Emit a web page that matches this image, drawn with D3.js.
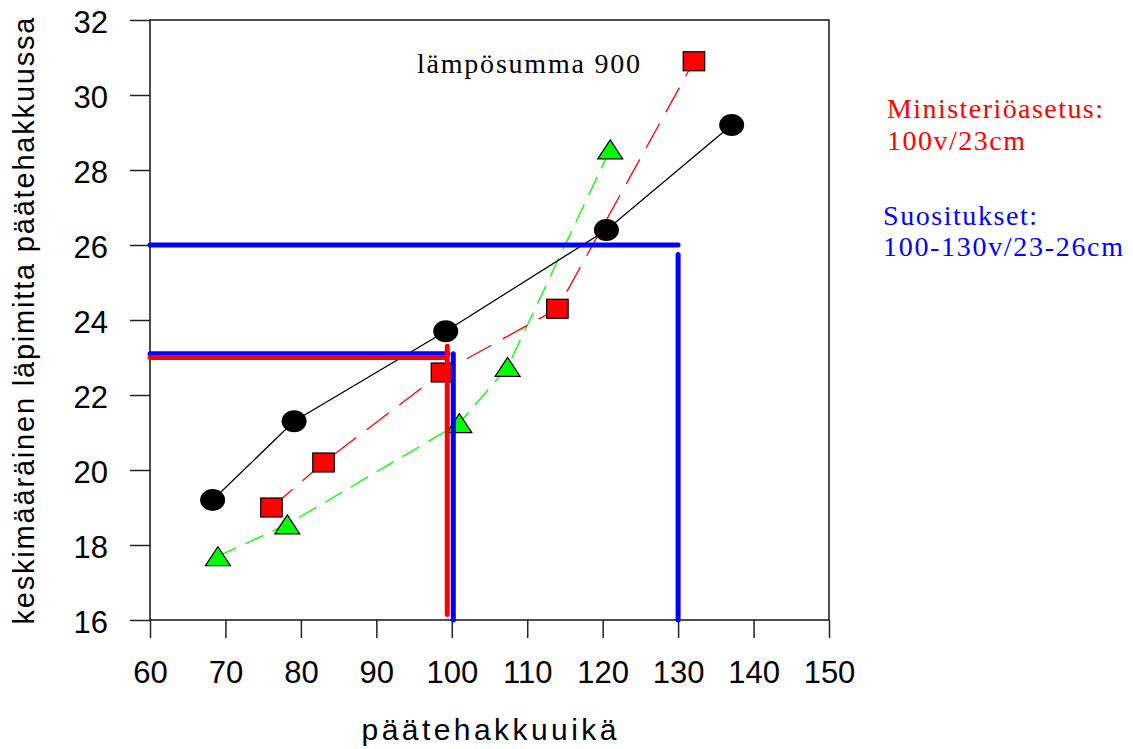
<!DOCTYPE html>
<html>
<head>
<meta charset="utf-8">
<script src="https://cdn.jsdelivr.net/npm/d3@7"></script>
<style>
  html, body { margin: 0; padding: 0; background: #fff; }
  svg { display: block; }
</style>
</head>
<body>
<div id="chart"></div>
<script>
// ---- data ----
const xTicks = [60, 70, 80, 90, 100, 110, 120, 130, 140, 150];
const yTicks = [16, 18, 20, 22, 24, 26, 28, 30, 32];

const blackAge  = [68.3, 79.1, 99.2, 120.5, 137.1];
const blackDiam = [19.2, 21.3, 23.7, 26.4, 29.2];

const redAge    = [76.1, 83.0, 98.7, 114.0, 132.1];
const redDiam   = [19.0, 20.2, 22.6, 24.3, 30.9];

const greenAge  = [69.0, 78.2, 101.0, 107.4, 121.0];
const greenDiam = [17.7, 18.55, 21.25, 22.75, 28.55];

// reference lines (age, diameter)
const blueRefLines = [
  [[60, 23.1], [99.5, 23.1]],
  [[100.2, 23.1], [100.2, 16]],
  [[60, 26], [130, 26]],
  [[130, 25.75], [130, 16]]
];
const redRefLines = [
  [[60, 23.0], [99.2, 23.0]],
  [[99.4, 23.3], [99.4, 16.15]]
];

const xTitle = "päätehakkuuikä";
const yTitle = "keskimääräinen läpimitta päätehakkuussa";
const plotLabel = "lämpösumma 900";
const redNote = ["Ministeriöasetus:", "100v/23cm"];
const blueNote = ["Suositukset:", "100-130v/23-26cm"];

// ---- drawing ----
const W = 1133, H = 749;
const svg = d3.select("#chart").append("svg").attr("width", W).attr("height", H);

const x = d3.scaleLinear().domain([60, 150]).range([150, 829]);
const y = d3.scaleLinear().domain([16, 32]).range([620, 20]);

const sans = "'Liberation Sans', Arial, sans-serif";
const serif = "'Liberation Serif', 'Times New Roman', serif";

// axes
const xAxis = svg.append("g").attr("transform", "translate(0,620)")
  .call(d3.axisBottom(x).tickValues(xTicks).tickSize(18).tickSizeOuter(0));
xAxis.select(".domain").remove();
xAxis.selectAll("line").attr("stroke", "#222").attr("stroke-width", 1.5);
xAxis.selectAll("text").attr("y", 63).attr("dy", 0)
  .attr("font-family", sans).attr("font-size", 31).attr("fill", "#000");

const yAxis = svg.append("g").attr("transform", "translate(150,0)")
  .call(d3.axisLeft(y).tickValues(yTicks).tickSize(20).tickSizeOuter(0));
yAxis.select(".domain").remove();
yAxis.selectAll("line").attr("stroke", "#222").attr("stroke-width", 1.5);
yAxis.selectAll("text").attr("x", -42).attr("dy", 12)
  .attr("font-family", sans).attr("font-size", 31).attr("fill", "#000");

// frame
svg.append("rect").attr("x", x(60)).attr("y", y(32))
  .attr("width", x(150) - x(60)).attr("height", y(16) - y(32))
  .attr("fill", "none").attr("stroke", "#222").attr("stroke-width", 1.6);

// series lines
const line = d3.line().x(d => x(d[0])).y(d => y(d[1]));
const zip = (a, b) => a.map((v, i) => [v, b[i]]);
const blackPts = zip(blackAge, blackDiam);
const redPts = zip(redAge, redDiam);
const greenPts = zip(greenAge, greenDiam);

svg.append("path").datum(greenPts).attr("d", line)
  .attr("fill", "none").attr("stroke", "#00ff00").attr("stroke-width", 1.3)
  .attr("stroke-dasharray", "20,10");
svg.append("path").datum(redPts).attr("d", line)
  .attr("fill", "none").attr("stroke", "#ff0000").attr("stroke-width", 1.3)
  .attr("stroke-dasharray", "28,13");
svg.append("path").datum(blackPts).attr("d", line)
  .attr("fill", "none").attr("stroke", "#000").attr("stroke-width", 1.3);

// markers
svg.append("g").selectAll("ellipse").data(blackPts).join("ellipse")
  .attr("cx", d => x(d[0])).attr("cy", d => y(d[1]))
  .attr("rx", 12.5).attr("ry", 11).attr("fill", "#000");

svg.append("g").selectAll("rect").data(redPts).join("rect")
  .attr("x", d => x(d[0]) - 10.75).attr("y", d => y(d[1]) - 9.5)
  .attr("width", 21.5).attr("height", 19)
  .attr("fill", "#ff0000").attr("stroke", "#000").attr("stroke-width", 1.2);

svg.append("g").selectAll("path").data(greenPts).join("path")
  .attr("d", d => {
    const cx = x(d[0]), cy = y(d[1]);
    return `M${cx},${cy - 9.5}L${cx + 12.5},${cy + 9.5}L${cx - 12.5},${cy + 9.5}Z`;
  })
  .attr("fill", "#00ff00").attr("stroke", "#000").attr("stroke-width", 1.2);

// reference lines
svg.append("g").selectAll("path").data(blueRefLines).join("path")
  .attr("d", line).attr("fill", "none").attr("stroke", "#0000ff")
  .attr("stroke-width", 5).attr("stroke-linecap", "round");
svg.append("g").selectAll("path").data(redRefLines).join("path")
  .attr("d", line).attr("fill", "none").attr("stroke", "#ff0000")
  .attr("stroke-width", 5).attr("stroke-linecap", "round");

// titles
svg.append("text").attr("x", 489).attr("y", 740).attr("text-anchor", "middle")
  .attr("font-family", sans).attr("font-size", 30)
  .attr("textLength", 255).attr("lengthAdjust", "spacing")
  .text(xTitle);

svg.append("text").attr("transform", "translate(34,321) rotate(-90)")
  .attr("text-anchor", "middle")
  .attr("font-family", sans).attr("font-size", 29)
  .attr("textLength", 607).attr("lengthAdjust", "spacing")
  .text(yTitle);

// annotations
svg.append("text").attr("x", 417).attr("y", 73)
  .attr("font-family", serif).attr("font-size", 28)
  .attr("textLength", 223).attr("lengthAdjust", "spacing")
  .text(plotLabel);

const notes = [
  {t: redNote[0], x: 887, y: 118, w: 216, c: "#ff0000"},
  {t: redNote[1], x: 887, y: 150, w: 138, c: "#ff0000"},
  {t: blueNote[0], x: 883, y: 225, w: 154, c: "#0000ff"},
  {t: blueNote[1], x: 883, y: 256, w: 240, c: "#0000ff"}
];
svg.append("g").selectAll("text").data(notes).join("text")
  .attr("x", d => d.x).attr("y", d => d.y)
  .attr("font-family", serif).attr("font-size", 28).attr("fill", d => d.c)
  .attr("textLength", d => d.w).attr("lengthAdjust", "spacing")
  .text(d => d.t);
</script>
</body>
</html>
